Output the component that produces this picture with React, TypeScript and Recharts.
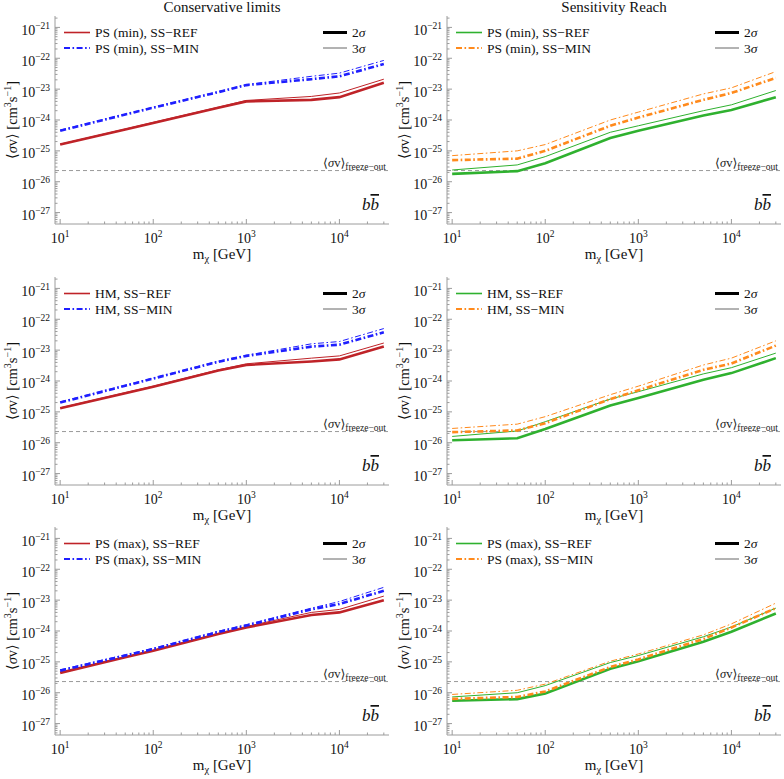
import { LineChart, Line, XAxis, YAxis, ReferenceLine } from "recharts";

// dark matter masses [GeV]
const masses = [10, 50, 100, 500, 1000, 5000, 10000, 30000];

// Conservative limits, PS (min)
const psMinRef2 = [1.6e-25, 4.9e-25, 8e-25, 2.5e-24, 4e-24, 4.5e-24, 5.5e-24, 1.6e-23];
const psMinRef3 = [1.65e-25, 5.1e-25, 8.4e-25, 2.6e-24, 4.3e-24, 5.8e-24, 7.5e-24, 2.1e-23];
const psMinMin2 = [4.5e-25, 1.5e-24, 2.5e-24, 8e-24, 1.35e-23, 2.1e-23, 2.6e-23, 6.5e-23];
const psMinMin3 = [4.7e-25, 1.55e-24, 2.6e-24, 8.3e-24, 1.4e-23, 2.6e-23, 3.3e-23, 8.5e-23];

// Sensitivity reach, PS (min)
const psMinSensRef2 = [1.8e-26, 2.2e-26, 4e-26, 2.6e-25, 4.5e-25, 1.4e-24, 2.1e-24, 5.5e-24];
const psMinSensRef3 = [2.4e-26, 3.5e-26, 6.5e-26, 4e-25, 6.5e-25, 2e-24, 3.1e-24, 9e-24];
const psMinSensMin2 = [5e-26, 5.6e-26, 1e-25, 6.5e-25, 1.2e-24, 4.5e-24, 7.5e-24, 2.3e-23];
const psMinSensMin3 = [7e-26, 1e-25, 1.6e-25, 1e-24, 1.8e-24, 7e-24, 1.1e-23, 3.7e-23];

// Conservative limits, HM
const hmRef2 = [1.3e-25, 4e-25, 6.5e-25, 2.2e-24, 3.3e-24, 4.3e-24, 5e-24, 1.3e-23];
const hmRef3 = [1.35e-25, 4.2e-25, 6.8e-25, 2.3e-24, 3.6e-24, 5.5e-24, 6.5e-24, 1.7e-23];
const hmMin2 = [2e-25, 7e-25, 1.2e-24, 4.2e-24, 6.5e-24, 1.3e-23, 1.5e-23, 3.8e-23];
const hmMin3 = [2.1e-25, 7.3e-25, 1.25e-24, 4.4e-24, 6.8e-24, 1.6e-23, 1.9e-23, 5e-23];

// Sensitivity reach, HM
const hmSensRef2 = [1.2e-26, 1.4e-26, 2.8e-26, 1.6e-25, 2.8e-25, 1.1e-24, 1.8e-24, 5.5e-24];
const hmSensRef3 = [1.6e-26, 2.4e-26, 4.8e-26, 2.6e-25, 4.5e-25, 1.7e-24, 2.7e-24, 8e-24];
const hmSensMin2 = [2.2e-26, 2.5e-26, 4.3e-26, 2.6e-25, 5e-25, 2.3e-24, 3.7e-24, 1.4e-23];
const hmSensMin3 = [2.9e-26, 4e-26, 7e-26, 3.6e-25, 6.8e-25, 3.3e-24, 5.5e-24, 2e-23];

// Conservative limits, PS (max)
const psMaxRef2 = [4.4e-26, 1.4e-25, 2.3e-25, 8e-25, 1.3e-24, 3.3e-24, 4e-24, 1e-23];
const psMaxRef3 = [4.6e-26, 1.45e-25, 2.4e-25, 8.4e-25, 1.4e-24, 4e-24, 5e-24, 1.35e-23];
const psMaxMin2 = [5.2e-26, 1.6e-25, 2.6e-25, 9.3e-25, 1.5e-24, 5e-24, 7.5e-24, 2e-23];
const psMaxMin3 = [5.5e-26, 1.7e-25, 2.75e-25, 9.8e-25, 1.6e-24, 5.5e-24, 9e-24, 2.6e-23];

// Sensitivity reach, PS (max)
const psMaxSensRef2 = [5.5e-27, 6.2e-27, 9.5e-27, 6e-26, 1.05e-25, 4.5e-25, 9.5e-25, 3.7e-24];
const psMaxSensRef3 = [7.3e-27, 1e-26, 1.7e-26, 9.5e-26, 1.6e-25, 6.5e-25, 1.35e-24, 5.5e-24];
const psMaxSensMin2 = [6.3e-27, 7.3e-27, 1.1e-26, 6.8e-26, 1.2e-25, 5.5e-25, 1.3e-24, 5.5e-24];
const psMaxSensMin3 = [8.8e-27, 1.2e-26, 1.9e-26, 1.05e-25, 1.8e-25, 7.5e-25, 1.7e-24, 8e-24];

const FREEZE_OUT = 2.3e-26;

// axis ticks
const xMajor = [10, 100, 1000, 10000];
const yMajor = [1e-28, 1e-27, 1e-26, 1e-25, 1e-24, 1e-23, 1e-22, 1e-21];
const minorSteps = [2, 3, 4, 5, 6, 7, 8, 9];

const X_DOMAIN = [8.8, 34100];
const Y_DOMAIN = [4.27e-28, 2.34e-21];

const withMinor = (majors: number[], lo: number, hi: number) =>
  majors
    .flatMap((m) => [m, ...minorSteps.map((s) => s * m)])
    .filter((v) => v >= lo && v <= hi);

const xTicks = withMinor(xMajor, X_DOMAIN[0], X_DOMAIN[1]);
const yTicks = withMinor(yMajor, Y_DOMAIN[0], Y_DOMAIN[1]);

const FRAME = "#9c9c9c";
const FONT = "'Liberation Serif', 'DejaVu Serif', serif";
const RED = "#bf2328";
const BLUE = "#1f1fff";
const GREEN = "#2fb12f";
const ORANGE = "#ff8a1c";
const DASHDOT = "6 2.5 1.6 2.5";

const ROW_TOP = [0, 261, 511];
const PANEL_W = 392;
const PANEL_H = 250;

const isMajor = (v: number) => {
  const l = Math.log10(v);
  return Math.abs(l - Math.round(l)) < 1e-6;
};
const expOf = (v: number) => Math.round(Math.log10(v));
const fmtExp = (e: number) => (e < 0 ? `\u2212${-e}` : `${e}`);

function BottomTick({ x, y, payload }: any) {
  const v = payload.value;
  const major = isMajor(v);
  return (
    <g>
      <line x1={x} x2={x} y1={y} y2={y - (major ? 5 : 2.5)} stroke={FRAME} />
      {major && (
        <text x={x} y={y + 19} textAnchor="middle" fontSize={14} fill="#111" fontFamily={FONT}>
          10
          <tspan dy={-6} fontSize={9.5}>
            {fmtExp(expOf(v))}
          </tspan>
        </text>
      )}
    </g>
  );
}

function TopTick({ x, y, payload }: any) {
  const major = isMajor(payload.value);
  return <line x1={x} x2={x} y1={y} y2={y + (major ? 5 : 2.5)} stroke={FRAME} />;
}

function LeftTick({ x, y, payload }: any) {
  const v = payload.value;
  const major = isMajor(v);
  return (
    <g>
      <line x1={x} x2={x + (major ? 5 : 2.5)} y1={y} y2={y} stroke={FRAME} />
      {major && (
        <text x={x - 5} y={y + 7.5} textAnchor="end" fontSize={14} fill="#111" fontFamily={FONT}>
          10
          <tspan dy={-6} fontSize={9.5}>
            {fmtExp(expOf(v))}
          </tspan>
        </text>
      )}
    </g>
  );
}

function RightTick({ x, y, payload }: any) {
  const major = isMajor(payload.value);
  return <line x1={x} x2={x - (major ? 5 : 2.5)} y1={y} y2={y} stroke={FRAME} />;
}

function FreezeLabel({ viewBox }: any) {
  const right = viewBox.x + viewBox.width - 3;
  return (
    <text x={right} y={viewBox.y - 4} textAnchor="end" fontSize={12.5} fill="#222" fontFamily={FONT}>
      {"\u27E8"}
      <tspan fontStyle="italic">{"\u03C3"}</tspan>
      {"v\u27E9"}
      <tspan dy={3} fontSize={9.5}>
        freeze{"\u2212"}out
      </tspan>
    </text>
  );
}

interface PanelProps {
  col: number;
  row: number;
  title?: string;
  model: string;
  refColor: string;
  minColor: string;
  ref2: number[];
  ref3: number[];
  min2: number[];
  min3: number[];
}

function Panel({ col, row, title, model, refColor, minColor, ref2, ref3, min2, min3 }: PanelProps) {
  const data = masses.map((m, i) => ({
    m,
    ref2: ref2[i],
    ref3: ref3[i],
    min2: min2[i],
    min3: min3[i],
  }));
  const left = col * PANEL_W;
  const top = ROW_TOP[row];

  return (
    <div style={{ position: "absolute", left, top, width: PANEL_W, height: 266 }}>
      <LineChart
        width={PANEL_W}
        height={PANEL_H}
        data={data}
        margin={{ top: 16, right: 3, left: 0, bottom: 0 }}
      >
        <XAxis
          dataKey="m"
          type="number"
          scale="log"
          domain={X_DOMAIN}
          allowDataOverflow
          ticks={xTicks}
          interval={0}
          tick={BottomTick}
          tickLine={false}
          tickSize={0}
          tickMargin={0}
          height={PANEL_H - 16 - 208}
          axisLine={{ stroke: FRAME }}
        />
        <XAxis
          xAxisId="top"
          orientation="top"
          dataKey="m"
          type="number"
          scale="log"
          domain={X_DOMAIN}
          allowDataOverflow
          ticks={xTicks}
          interval={0}
          tick={TopTick}
          tickLine={false}
          tickSize={0}
          tickMargin={0}
          height={0}
          axisLine={{ stroke: FRAME }}
        />
        <YAxis
          type="number"
          scale="log"
          domain={Y_DOMAIN}
          allowDataOverflow
          ticks={yTicks}
          interval={0}
          tick={LeftTick}
          tickLine={false}
          tickSize={0}
          tickMargin={0}
          width={55}
          axisLine={{ stroke: FRAME }}
        />
        <YAxis
          yAxisId="right"
          orientation="right"
          type="number"
          scale="log"
          domain={Y_DOMAIN}
          allowDataOverflow
          ticks={yTicks}
          interval={0}
          tick={RightTick}
          tickLine={false}
          tickSize={0}
          tickMargin={0}
          width={0}
          axisLine={{ stroke: FRAME }}
        />
        <ReferenceLine
          y={FREEZE_OUT}
          stroke="#9a9a9a"
          strokeDasharray="4 3"
          strokeWidth={1}
          label={<FreezeLabel />}
        />
        <Line
          xAxisId="top"
          yAxisId="right"
          dataKey="ref2"
          stroke="none"
          dot={false}
          activeDot={false}
          legendType="none"
          isAnimationActive={false}
        />
        <Line type="linear" dataKey="ref3" stroke={refColor} strokeWidth={1} dot={false} isAnimationActive={false} />
        <Line type="linear" dataKey="ref2" stroke={refColor} strokeWidth={2.6} dot={false} isAnimationActive={false} />
        <Line
          type="linear"
          dataKey="min3"
          stroke={minColor}
          strokeWidth={1}
          strokeDasharray={DASHDOT}
          dot={false}
          isAnimationActive={false}
        />
        <Line
          type="linear"
          dataKey="min2"
          stroke={minColor}
          strokeWidth={2.6}
          strokeDasharray={DASHDOT}
          dot={false}
          isAnimationActive={false}
        />
      </LineChart>

      <svg
        width={PANEL_W}
        height={266}
        style={{ position: "absolute", left: 0, top: 0, pointerEvents: "none", overflow: "visible" }}
        fontFamily={FONT}
      >
        {title && (
          <text x={222} y={12} textAnchor="middle" fontSize={15} fill="#111">
            {title}
          </text>
        )}
        {/* legend: source models */}
        <line x1={64} x2={90} y1={32.5} y2={32.5} stroke={refColor} strokeWidth={1.6} />
        <text x={95} y={37} fontSize={13.5} fill="#111">
          {model}, SS{"\u2212"}REF
        </text>
        <line x1={64} x2={90} y1={48} y2={48} stroke={minColor} strokeWidth={2} strokeDasharray={DASHDOT} />
        <text x={95} y={52.5} fontSize={13.5} fill="#111">
          {model}, SS{"\u2212"}MIN
        </text>
        {/* legend: significance */}
        <line x1={323} x2={347} y1={32.5} y2={32.5} stroke="#000" strokeWidth={3} />
        <text x={352} y={37} fontSize={13.5} fill="#111">
          2<tspan fontStyle="italic">{"\u03C3"}</tspan>
        </text>
        <line x1={323} x2={347} y1={48} y2={48} stroke="#666" strokeWidth={1} />
        <text x={352} y={52.5} fontSize={13.5} fill="#111">
          3<tspan fontStyle="italic">{"\u03C3"}</tspan>
        </text>
        {/* channel */}
        <text x={379} y={210} textAnchor="end" fontSize={17} fontStyle="italic" fill="#111">
          b<tspan style={{ textDecoration: "overline" }}>b</tspan>
        </text>
        {/* axis titles */}
        <text
          x={14}
          y={120}
          transform="rotate(-90 14 120)"
          textAnchor="middle"
          dominantBaseline="middle"
          fontSize={14.5}
          fill="#111"
        >
          {"\u27E8"}
          <tspan fontStyle="italic">{"\u03C3"}</tspan>
          {"v\u27E9 [cm"}
          <tspan dy={-5} fontSize={10}>3</tspan>
          <tspan dy={5}>s</tspan>
          <tspan dy={-5} fontSize={10}>{"\u2212"}1</tspan>
          <tspan dy={5}>]</tspan>
        </text>
        <text x={222} y={258.5} textAnchor="middle" fontSize={15} fill="#111">
          m
          <tspan dy={3} fontSize={10.5}>{"\u03C7"}</tspan>
          <tspan dy={-3}> [GeV]</tspan>
        </text>
      </svg>
    </div>
  );
}

export default function App() {
  return (
    <div
      style={{
        position: "absolute",
        left: 0,
        top: 0,
        width: 784,
        height: 779,
        background: "#fff",
        overflow: "hidden",
      }}
    >
      <Panel col={0} row={0} title="Conservative limits" model="PS (min)" refColor={RED} minColor={BLUE}
        ref2={psMinRef2} ref3={psMinRef3} min2={psMinMin2} min3={psMinMin3} />
      <Panel col={1} row={0} title="Sensitivity Reach" model="PS (min)" refColor={GREEN} minColor={ORANGE}
        ref2={psMinSensRef2} ref3={psMinSensRef3} min2={psMinSensMin2} min3={psMinSensMin3} />
      <Panel col={0} row={1} model="HM" refColor={RED} minColor={BLUE}
        ref2={hmRef2} ref3={hmRef3} min2={hmMin2} min3={hmMin3} />
      <Panel col={1} row={1} model="HM" refColor={GREEN} minColor={ORANGE}
        ref2={hmSensRef2} ref3={hmSensRef3} min2={hmSensMin2} min3={hmSensMin3} />
      <Panel col={0} row={2} model="PS (max)" refColor={RED} minColor={BLUE}
        ref2={psMaxRef2} ref3={psMaxRef3} min2={psMaxMin2} min3={psMaxMin3} />
      <Panel col={1} row={2} model="PS (max)" refColor={GREEN} minColor={ORANGE}
        ref2={psMaxSensRef2} ref3={psMaxSensRef3} min2={psMaxSensMin2} min3={psMaxSensMin3} />
    </div>
  );
}
